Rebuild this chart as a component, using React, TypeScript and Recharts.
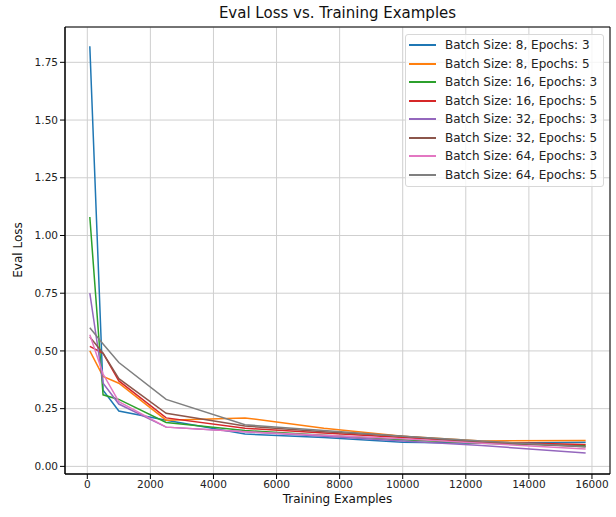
import { LineChart, Line, XAxis, YAxis, CartesianGrid, ReferenceArea } from "recharts";

const examples = [80, 500, 1000, 2500, 5000, 7500, 10000, 12500, 15800];

const bs8ep3 = [1.82, 0.33, 0.24, 0.2, 0.14, 0.125, 0.105, 0.1, 0.105];
const bs8ep5 = [0.5, 0.39, 0.36, 0.2, 0.21, 0.165, 0.13, 0.11, 0.112];
const bs16ep3 = [1.08, 0.31, 0.29, 0.19, 0.155, 0.135, 0.115, 0.1, 0.09];
const bs16ep5 = [0.52, 0.49, 0.37, 0.21, 0.165, 0.145, 0.125, 0.105, 0.095];
const bs32ep3 = [0.75, 0.36, 0.27, 0.17, 0.15, 0.13, 0.11, 0.09, 0.058];
const bs32ep5 = [0.56, 0.49, 0.38, 0.23, 0.175, 0.15, 0.13, 0.105, 0.085];
const bs64ep3 = [0.57, 0.4, 0.28, 0.17, 0.15, 0.135, 0.12, 0.1, 0.075];
const bs64ep5 = [0.6, 0.53, 0.45, 0.29, 0.18, 0.155, 0.13, 0.11, 0.085];

const xTicks = [0, 2000, 4000, 6000, 8000, 10000, 12000, 14000, 16000];
const yTicks = [0, 0.25, 0.5, 0.75, 1.0, 1.25, 1.5, 1.75];

const series = [
  { key: "b8e3", name: "Batch Size: 8, Epochs: 3", values: bs8ep3, color: "#1f77b4" },
  { key: "b8e5", name: "Batch Size: 8, Epochs: 5", values: bs8ep5, color: "#ff7f0e" },
  { key: "b16e3", name: "Batch Size: 16, Epochs: 3", values: bs16ep3, color: "#2ca02c" },
  { key: "b16e5", name: "Batch Size: 16, Epochs: 5", values: bs16ep5, color: "#d62728" },
  { key: "b32e3", name: "Batch Size: 32, Epochs: 3", values: bs32ep3, color: "#9467bd" },
  { key: "b32e5", name: "Batch Size: 32, Epochs: 5", values: bs32ep5, color: "#8c564b" },
  { key: "b64e3", name: "Batch Size: 64, Epochs: 3", values: bs64ep3, color: "#e377c2" },
  { key: "b64e5", name: "Batch Size: 64, Epochs: 5", values: bs64ep5, color: "#7f7f7f" },
];

const data = examples.map((x, i) => {
  const row: Record<string, number> = { x };
  series.forEach((s) => (row[s.key] = s.values[i]));
  return row;
});

const X_DOMAIN: [number, number] = [-707, 16572];
const Y_DOMAIN: [number, number] = [-0.033, 1.903];
const font = "'DejaVu Sans', sans-serif";

function LegendBox() {
  return (
    <div
      style={{
        position: "absolute",
        left: 405,
        top: 34,
        width: 199,
        boxSizing: "border-box",
        border: "1px solid #d8d8d8",
        borderRadius: 3,
        background: "rgba(255,255,255,0.8)",
        padding: "1px 0 2px 0",
        fontFamily: font,
        fontSize: 12,
        color: "#222",
      }}
    >
      {series.map((s) => (
        <div key={s.key} style={{ display: "flex", alignItems: "center", height: 18.5, whiteSpace: "nowrap" }}>
          <div style={{ width: 27, height: 2, background: s.color, marginLeft: 3, marginRight: 9, flexShrink: 0 }} />
          <span>{s.name}</span>
        </div>
      ))}
    </div>
  );
}

export default function App() {
  return (
    <div style={{ position: "absolute", left: 0, top: 0, width: 616, height: 517, background: "#fff", fontFamily: font }}>
      <div style={{ position: "absolute", top: 4, left: 65, width: 545, textAlign: "center", fontSize: 15, color: "#111" }}>
        Eval Loss vs. Training Examples
      </div>
      <div style={{ position: "absolute", top: 492, left: 65, width: 545, textAlign: "center", fontSize: 12, color: "#111" }}>
        Training Examples
      </div>
      <div
        style={{
          position: "absolute",
          left: 18,
          top: 250,
          transform: "translate(-50%, -50%) rotate(-90deg)",
          fontSize: 12,
          color: "#111",
          whiteSpace: "nowrap",
        }}
      >
        Eval Loss
      </div>
      <LineChart width={616} height={517} data={data} margin={{ top: 27, right: 6, bottom: 0, left: 0 }}>
        <CartesianGrid stroke="#cfcfcf" strokeWidth={1} />
        <XAxis
          dataKey="x"
          type="number"
          domain={X_DOMAIN}
          ticks={xTicks}
          allowDataOverflow
          height={43}
          tickSize={5}
          tick={{ fontSize: 10.5, fill: "#222", fontFamily: font }}
          stroke="#000"
          tickLine={{ stroke: "#000" }}
        />
        <YAxis
          type="number"
          domain={Y_DOMAIN}
          ticks={yTicks}
          allowDataOverflow
          width={65}
          tickSize={5}
          tickFormatter={(v: number) => v.toFixed(2)}
          tick={{ fontSize: 10.5, fill: "#222", fontFamily: font }}
          stroke="#000"
          tickLine={{ stroke: "#000" }}
        />
        <ReferenceArea x1={X_DOMAIN[0]} x2={X_DOMAIN[1]} y1={Y_DOMAIN[0]} y2={Y_DOMAIN[1]} fill="none" stroke="#000" strokeWidth={1} />
        {series.map((s) => (
          <Line
            key={s.key}
            dataKey={s.key}
            name={s.name}
            type="linear"
            stroke={s.color}
            strokeWidth={1.5}
            dot={false}
            isAnimationActive={false}
          />
        ))}
      </LineChart>
      <LegendBox />
    </div>
  );
}
